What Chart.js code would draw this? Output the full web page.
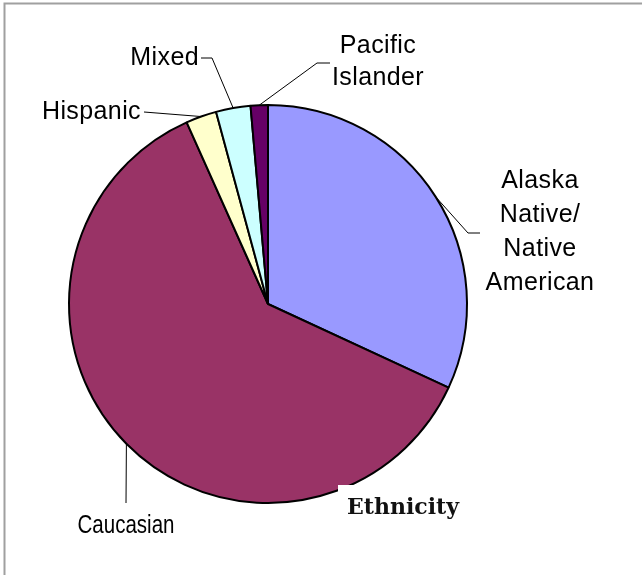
<!DOCTYPE html>
<html>
<head>
<meta charset="utf-8">
<script src="https://cdn.jsdelivr.net/npm/chart.js@4/dist/chart.umd.min.js"></script>
<style>
  html, body { margin: 0; padding: 0; background: #fff; }
  canvas { display: block; }
</style>
</head>
<body>
<canvas id="pie" width="642" height="575"></canvas>
<script>
// ---- data ----
const categories = ['Alaska Native/Native American', 'Caucasian', 'Hispanic', 'Mixed', 'Pacific Islander'];
const shares = [31.9, 61.4, 2.5, 2.8, 1.4]; // percent
const labelLines = [['Alaska', 'Native/', 'Native', 'American'], ['Caucasian'], ['Hispanic'], ['Mixed'], ['Pacific', 'Islander']];
const chartTitle = 'Ethnicity';

// ---- style ----
const sliceColors = ['#9999FF', '#993366', '#FFFFCC', '#CCFFFF', '#660066'];

// where each label sits and how its leader bends (leader starts on the slice edge)
const labelLayout = [
  { x: 540, y: 188, lh: 34, align: 'center', path: [[468, 233], [480, 233]] },
  { x: 126, y: 533, lh: 0, align: 'center', size: 25, squeeze: 0.82, path: [[126, 503]] },
  { x: 141, y: 119, lh: 0, align: 'right', path: [[144, 112]] },
  { x: 199, y: 65, lh: 0, align: 'right', path: [[212, 58], [201, 58]] },
  { x: 378, y: 53, lh: 32, align: 'center', path: [[317, 63], [330, 63]] }
];

/*******************************************************
 * frame + leader labels + title box
 *******************************************************/
const decorPlugin = {
  id: 'decor',
  beforeDraw(chart) {
    const ctx = chart.ctx;
    ctx.save();
    ctx.fillStyle = '#fff';
    ctx.fillRect(0, 0, chart.width, chart.height);
    ctx.strokeStyle = '#a0a0a0';
    ctx.lineWidth = 2;
    ctx.strokeRect(4.5, 3.5, 800, 800);
    ctx.restore();
  },
  afterDatasetsDraw(chart) {
    const ctx = chart.ctx;
    const arcs = chart.getDatasetMeta(0).data;
    ctx.save();
    arcs.forEach((arc, i) => {
      const p = arc.getProps(['x', 'y', 'startAngle', 'endAngle', 'outerRadius'], true);
      const mid = (p.startAngle + p.endAngle) / 2;
      const lay = labelLayout[i];

      // leader line
      ctx.strokeStyle = '#000';
      ctx.lineWidth = 1;
      ctx.beginPath();
      ctx.moveTo(p.x + Math.cos(mid) * p.outerRadius, p.y + Math.sin(mid) * p.outerRadius);
      lay.path.forEach(pt => ctx.lineTo(pt[0], pt[1]));
      ctx.stroke();

      // text
      const size = lay.size || 25;
      ctx.fillStyle = '#000';
      ctx.font = size + 'px "Liberation Sans", Arial, sans-serif';
      ctx.textAlign = lay.align;
      ctx.textBaseline = 'alphabetic';
      labelLines[i].forEach((line, k) => {
        const ty = lay.y + k * lay.lh;
        if (lay.squeeze) {
          ctx.save();
          ctx.letterSpacing = '0px';
          ctx.translate(lay.x, ty);
          ctx.scale(lay.squeeze, 1);
          ctx.fillText(line, 0, 0);
          ctx.restore();
        } else {
          ctx.letterSpacing = '0.4px';
          ctx.fillText(line, lay.x, ty);
        }
      });
    });

    // title sits in a white box over the pie
    ctx.letterSpacing = '0px';
    ctx.fillStyle = '#fff';
    ctx.fillRect(338, 485, 130, 42);
    ctx.fillStyle = '#111';
    ctx.font = 'bold 22px "DejaVu Serif", Georgia, serif';
    ctx.textAlign = 'left';
    ctx.fillText(chartTitle, 347, 514);
    ctx.restore();
  }
};

const ctx = document.getElementById('pie').getContext('2d');
new Chart(ctx, {
  type: 'pie',
  data: {
    labels: categories,
    datasets: [{
      data: shares,
      backgroundColor: sliceColors,
      borderColor: '#000',
      borderWidth: 2
    }]
  },
  options: {
    responsive: false,
    animation: false,
    radius: 199,
    layout: { padding: { left: 20, right: 126, top: 53, bottom: 20 } },
    plugins: {
      legend: { display: false },
      tooltip: { enabled: false }
    }
  },
  plugins: [decorPlugin]
});
</script>
</body>
</html>
